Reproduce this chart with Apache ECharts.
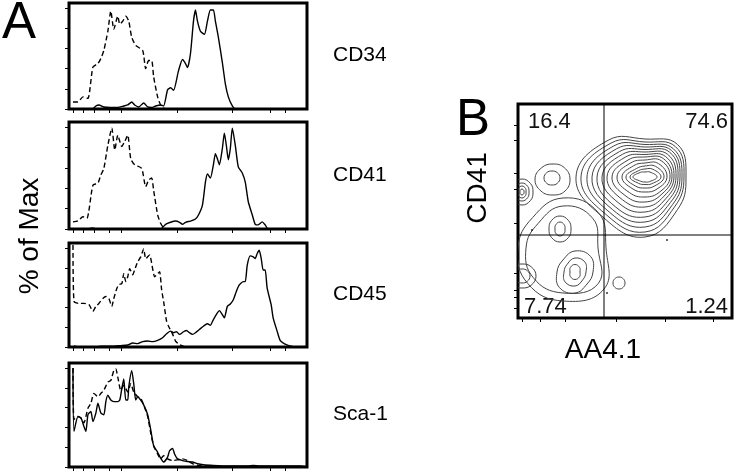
<!DOCTYPE html>
<html lang="en">
<head>
    <meta charset="UTF-8">
    <title>Histograms and contour</title>
    <script src="https://cdn.jsdelivr.net/npm/echarts@6/dist/echarts.min.js"></script>
    <style>
        html, body { margin: 0; padding: 0; background: #fff; }
        #main { width: 737px; height: 473px; }
    </style>
</head>
<body>
<div id="main"></div>
<script>
    // x in channel units 0..239 (left to right of each histogram box), y in % of max
    var xTicksA = [4, 14, 25, 40, 52, 109, 164, 202, 217];
    var yTicksA = [0, 20, 40, 60, 80, 100];
    var markers = ['CD34', 'CD41', 'CD45', 'Sca-1'];

    var cd34Ctrl = [[4,7],[9,7],[14,12],[19,10.5],[24,41.5],[29,45],[32,50],[35,58],[39,77],[42,97],[45,79],[49,92],[51,84],[54,87],[57,92],[60,87],[63,71],[67,63],[74,58],[77,40],[80,48],[83,48],[85,32],[89,12],[92,4],[95,1],[99,0],[239,0]];
    var cd34 = [[24,0],[27,3],[30,4],[35,2],[42,1.5],[49,1.5],[55,3],[59,4],[63,7],[66,4],[70,2],[75,6],[79,2],[83,1.5],[87,3],[92,4],[95,3],[99,19],[102,21],[105,18.5],[110,38],[114,49],[117,45],[119,41],[122,55],[125,87],[127,98],[129,87],[132,77],[136,74],[139,87],[142,98],[145,98],[147,87],[150,71],[154,46],[157,25],[160,12],[164,3],[167,0],[239,0]];

    var cd41Ctrl = [[4,7],[9,8],[14,12],[18,10.5],[24,43],[29,45],[32,53],[35,59.5],[39,82],[43,99],[46,77.5],[49,92],[53,81],[56,86],[59,92],[62,69],[66,63],[73,59.5],[77,41.5],[80,48],[83,50],[85,38],[89,14],[92,5.6],[95,1.3],[99,0],[239,0]];
    var cd41 = [[19,0],[24,1],[27,0],[92,0],[97,4.6],[102,6.6],[107,7.8],[111,6.6],[114,4.6],[117,6.6],[122,7.8],[127,9.8],[130,13.7],[134,23.5],[137,46],[139,54],[142,50],[145,63],[147,74],[149,69],[151,63],[154,79],[156,94],[158,82],[160,68],[162,79],[164,99],[167,82],[170,61],[174,55],[177,46],[180,27],[184,14],[187,4.6],[190,4],[194,7],[197,4],[200,0],[239,0]];

    var cd45Ctrl = [[4,103],[5,46],[10,44],[15,44],[20,43],[24,36],[27,41],[30,44],[34,49],[37,51],[40,49],[43,41],[45,49],[48,59],[50,63],[53,64],[55,74],[57,66],[59,71],[61,79],[64,73],[66,78],[69,86],[72,91],[75,99],[77,89],[79,91],[81,93],[84,79],[86,71],[89,74],[91,76],[93,58],[95,46],[98,26],[100,21],[104,13],[107,6],[110,3],[114,1],[117,0],[239,0]];
    var cd45 = [[5,1],[9,0],[25,0],[32,0.7],[42,0.7],[52,1.4],[59,2],[64,4],[69,3.4],[74,5.4],[79,6],[84,5.4],[89,6.7],[94,9.4],[98,13.4],[102,16],[105,14.4],[108,15.4],[111,12.7],[115,15.4],[118,16.7],[121,14.4],[124,12.7],[127,14.4],[131,17.7],[135,21],[139,23.4],[142,22],[145,27.7],[149,34.4],[151,36.7],[154,32.7],[156,29.4],[159,41],[162,43.4],[165,47.7],[168,56],[171,62.7],[175,66],[177,66],[179,82.7],[182,92],[185,91],[187,89.4],[189,94.4],[191,97.7],[193,89.4],[195,77.7],[197,77.7],[199,59.4],[203,42.7],[205,29.4],[209,16],[212,6.7],[216,3.4],[220,1.7],[225,0.4],[232,0],[239,0]];

    var sca1Ctrl = [[4,100],[5,48],[9,51],[12,49.5],[15,44.6],[19,59.4],[22,64.4],[25,74.3],[29,71],[32,74.3],[35,77.5],[39,85.7],[42,87.4],[45,97.3],[47,99],[49,90.7],[52,77.5],[55,82.5],[59,75.8],[62,84.1],[65,75.8],[69,71],[72,69.3],[75,62.7],[79,51.1],[82,34.7],[85,21.4],[89,13.2],[92,8.2],[95,11.5],[99,8.2],[104,6.5],[109,7.2],[114,8.2],[119,6.5],[124,3.3],[129,1.6],[135,1],[160,0],[239,0]];
    var sca1 = [[4,100],[5,36],[9,51],[12,49.5],[15,41],[17,36],[19,52.7],[22,56],[24,46],[27,54.5],[29,64.4],[32,54.5],[35,52.7],[37,66],[39,72.6],[42,67.6],[45,66],[49,66],[51,67.6],[53,79],[55,89],[57,67.6],[59,67.6],[60,80.8],[63,97.3],[65,84.1],[67,67.6],[69,71],[72,67.6],[75,62.7],[79,52.8],[82,37.9],[85,21.4],[89,14.9],[92,8.9],[95,5],[99,9.9],[101,16.4],[104,18.8],[106,13.2],[109,8.2],[114,6.5],[119,5.5],[124,5],[129,3.3],[135,2.3],[145,1.6],[159,1],[179,1],[185,1.6],[192,1],[232,1],[239,0]];

    var ctrlSets = [cd34Ctrl, cd41Ctrl, cd45Ctrl, sca1Ctrl];
    var stainSets = [cd34, cd41, cd45, sca1];

    // panel B: AA4.1 (x) vs CD41 (y), box units 0..214
    var xTicksB = [4, 22, 47, 98, 147, 195];
    var yTicksB = [10, 21, 28, 45, 95, 129, 145, 178, 193];
    var gateX = 86;
    var gateY = 83;
    var quadLabels = ['16.4', '74.6', '7.74', '1.24'];

    // contour rings: [centreX, centreY, then reach at 0,45,90,135,180,225,270,315 deg]
    var mainRings = [
        [127,141, 41,46,38,52,69,58,60,46],
        [127,141, 39,43,35,48,64,54,55,42],
        [127,141, 37,40,32.5,44,58,50,50,39],
        [127,141, 35,37.5,30,40,53,46,45,36],
        [127,141, 33,35,27.5,36,48,42,40,33],
        [127,141, 31,32,25,32,43,37,35,30],
        [127,141, 29,29,22.5,28,38,32,30,27],
        [127,141, 27,26,20,24,33,27,25,24],
        [127,141, 25,23,17,20,28,22,20,21],
        [127,141, 22,19,14,16,23,17,15,17],
        [127,141, 19,15,11,12,19,13,11,13],
        [127,141, 16,11,8,9,15,9,7.5,9.5],
        [127,141, 12,7,5,6.5,12,6,5,6.5]
    ];
    var ulRings = [
        [34,140, 8,7.5,7,7.5,8,7.5,7,7.5],
        [35,139, 17,16,15,16,18,17,16,17]
    ];
    var edgeRings = [
        [4,126, 11,12,13,12,11,12,13,12],
        [4,126, 7,8,9,8,7,8,9,8],
        [4,126, 4,5,6,5,4,5,6,5],
        [4,126, 2,2.5,3,2.5,2,2.5,3,2.5]
    ];
    var lowerRings = [
        [45,70, 35,42,42,35,37,42,45,50],
        [45,70, 43,50,50,43,45,50,53,58],
        [42,89, 5,6,7,6,5,6,7,6],
        [42,89, 11,12,13,12,11,12,13,12],
        [57,46, 5,6.5,7.5,6.5,5,6.5,7.5,6.5],
        [57,46, 11,14,14,11,11,14,14,11],
        [57,46, 18,22,21,17,18,22,21,17],
        [4,42, 8,7.5,7,7.5,8,7.5,7,7.5],
        [4,42, 14,13,12,13,14,13,12,13]
    ];
    var lrRings = [[101,35, 6,6,6,6,6,6,6,6]];
    var strayDots = [[14,88],[149,78],[89,25]];

    var rings = mainRings.concat(ulRings, edgeRings, lowerRings, lrRings);

    var tops = [3, 122, 243, 363];
    var heights = [106, 107, 104, 104];
    var font = 'Liberation Sans, Arial, sans-serif';

    var grids = [], xAxes = [], yAxes = [], series = [], graphics = [];

    function tickStyle(vals) {
        return { show: true, length: 4, customValues: vals, lineStyle: { color: '#000', width: 1 } };
    }

    for (var i = 0; i < 4; i++) {
        grids.push({ left: 69, top: tops[i], width: 238, height: heights[i], show: true, borderColor: '#000', borderWidth: 3 });
        xAxes.push({ type: 'value', gridIndex: i, min: 0, max: 239, axisLine: { show: false }, splitLine: { show: false }, axisLabel: { show: false }, axisTick: tickStyle(xTicksA) });
        yAxes.push({ type: 'value', gridIndex: i, min: 0, max: 105, axisLine: { show: false }, splitLine: { show: false }, axisLabel: { show: false }, axisTick: tickStyle(yTicksA) });
        series.push({ type: 'line', xAxisIndex: i, yAxisIndex: i, data: ctrlSets[i], showSymbol: false, symbol: 'none', smooth: 0.2,
            lineStyle: { color: '#000', width: 1.4, type: [5, 3] } });
        series.push({ type: 'line', xAxisIndex: i, yAxisIndex: i, data: stainSets[i], showSymbol: false, symbol: 'none', smooth: 0.2,
            lineStyle: { color: '#000', width: 1.4 } });
        graphics.push({ type: 'text', left: 333, top: tops[i] + heights[i] / 2 - 11,
            style: { text: markers[i], font: '21px ' + font, fill: '#000' } });
    }

    // panel B
    grids.push({ left: 518, top: 104, width: 214, height: 214, show: true, borderColor: '#000', borderWidth: 3 });
    xAxes.push({ type: 'value', gridIndex: 4, min: 0, max: 214, axisLine: { show: false }, splitLine: { show: false }, axisLabel: { show: false }, axisTick: tickStyle(xTicksB) });
    yAxes.push({ type: 'value', gridIndex: 4, min: 0, max: 214, axisLine: { show: false }, splitLine: { show: false }, axisLabel: { show: false }, axisTick: tickStyle(yTicksB) });

    series.push({
        type: 'custom', xAxisIndex: 4, yAxisIndex: 4, clip: true, data: rings,
        renderItem: function (params, api) {
            var pts = [];
            for (var k = 0; k < 8; k++) {
                var t = k * Math.PI / 4;
                var r = api.value(2 + k);
                pts.push(api.coord([api.value(0) + r * Math.cos(t), api.value(1) + r * Math.sin(t)]));
            }
            return { type: 'polygon', shape: { points: pts, smooth: 0.45 }, style: { fill: 'none', stroke: '#444', lineWidth: 1 } };
        }
    });
    series.push({ type: 'scatter', xAxisIndex: 4, yAxisIndex: 4, data: strayDots, symbolSize: 2, itemStyle: { color: '#000' } });
    series.push({ type: 'line', xAxisIndex: 4, yAxisIndex: 4, data: [[gateX, 0], [gateX, 214]], showSymbol: false, symbol: 'none', lineStyle: { color: '#000', width: 1 } });
    series.push({ type: 'line', xAxisIndex: 4, yAxisIndex: 4, data: [[0, gateY], [214, gateY]], showSymbol: false, symbol: 'none', lineStyle: { color: '#000', width: 1 } });

    graphics.push({ type: 'text', left: 2, top: -2, style: { text: 'A', font: '51px ' + font, fill: '#000' } });
    graphics.push({ type: 'text', x: 30, y: 236, rotation: Math.PI / 2,
        style: { text: '% of Max', font: '28px ' + font, fill: '#000', align: 'center', verticalAlign: 'middle' } });
    graphics.push({ type: 'text', left: 456, top: 95, style: { text: 'B', font: '51px ' + font, fill: '#000' } });
    graphics.push({ type: 'text', x: 478, y: 188, rotation: Math.PI / 2,
        style: { text: 'CD41', font: '28px ' + font, fill: '#000', align: 'center', verticalAlign: 'middle' } });
    graphics.push({ type: 'text', x: 603, y: 350,
        style: { text: 'AA4.1', font: '28px ' + font, fill: '#000', align: 'center', verticalAlign: 'middle' } });
    graphics.push({ type: 'text', x: 528, y: 122, style: { text: quadLabels[0], font: '22px ' + font, fill: '#111', verticalAlign: 'middle' } });
    graphics.push({ type: 'text', x: 728, y: 122, style: { text: quadLabels[1], font: '22px ' + font, fill: '#111', align: 'right', verticalAlign: 'middle' } });
    graphics.push({ type: 'text', x: 524, y: 307, style: { text: quadLabels[2], font: '22px ' + font, fill: '#111', verticalAlign: 'middle' } });
    graphics.push({ type: 'text', x: 728, y: 307, style: { text: quadLabels[3], font: '22px ' + font, fill: '#111', align: 'right', verticalAlign: 'middle' } });

    var myChart = echarts.init(document.getElementById('main'));
    var option = {
        backgroundColor: '#fff',
        animation: false,
        grid: grids,
        xAxis: xAxes,
        yAxis: yAxes,
        series: series,
        graphic: graphics
    };
    myChart.setOption(option);
</script>
</body>
</html>
